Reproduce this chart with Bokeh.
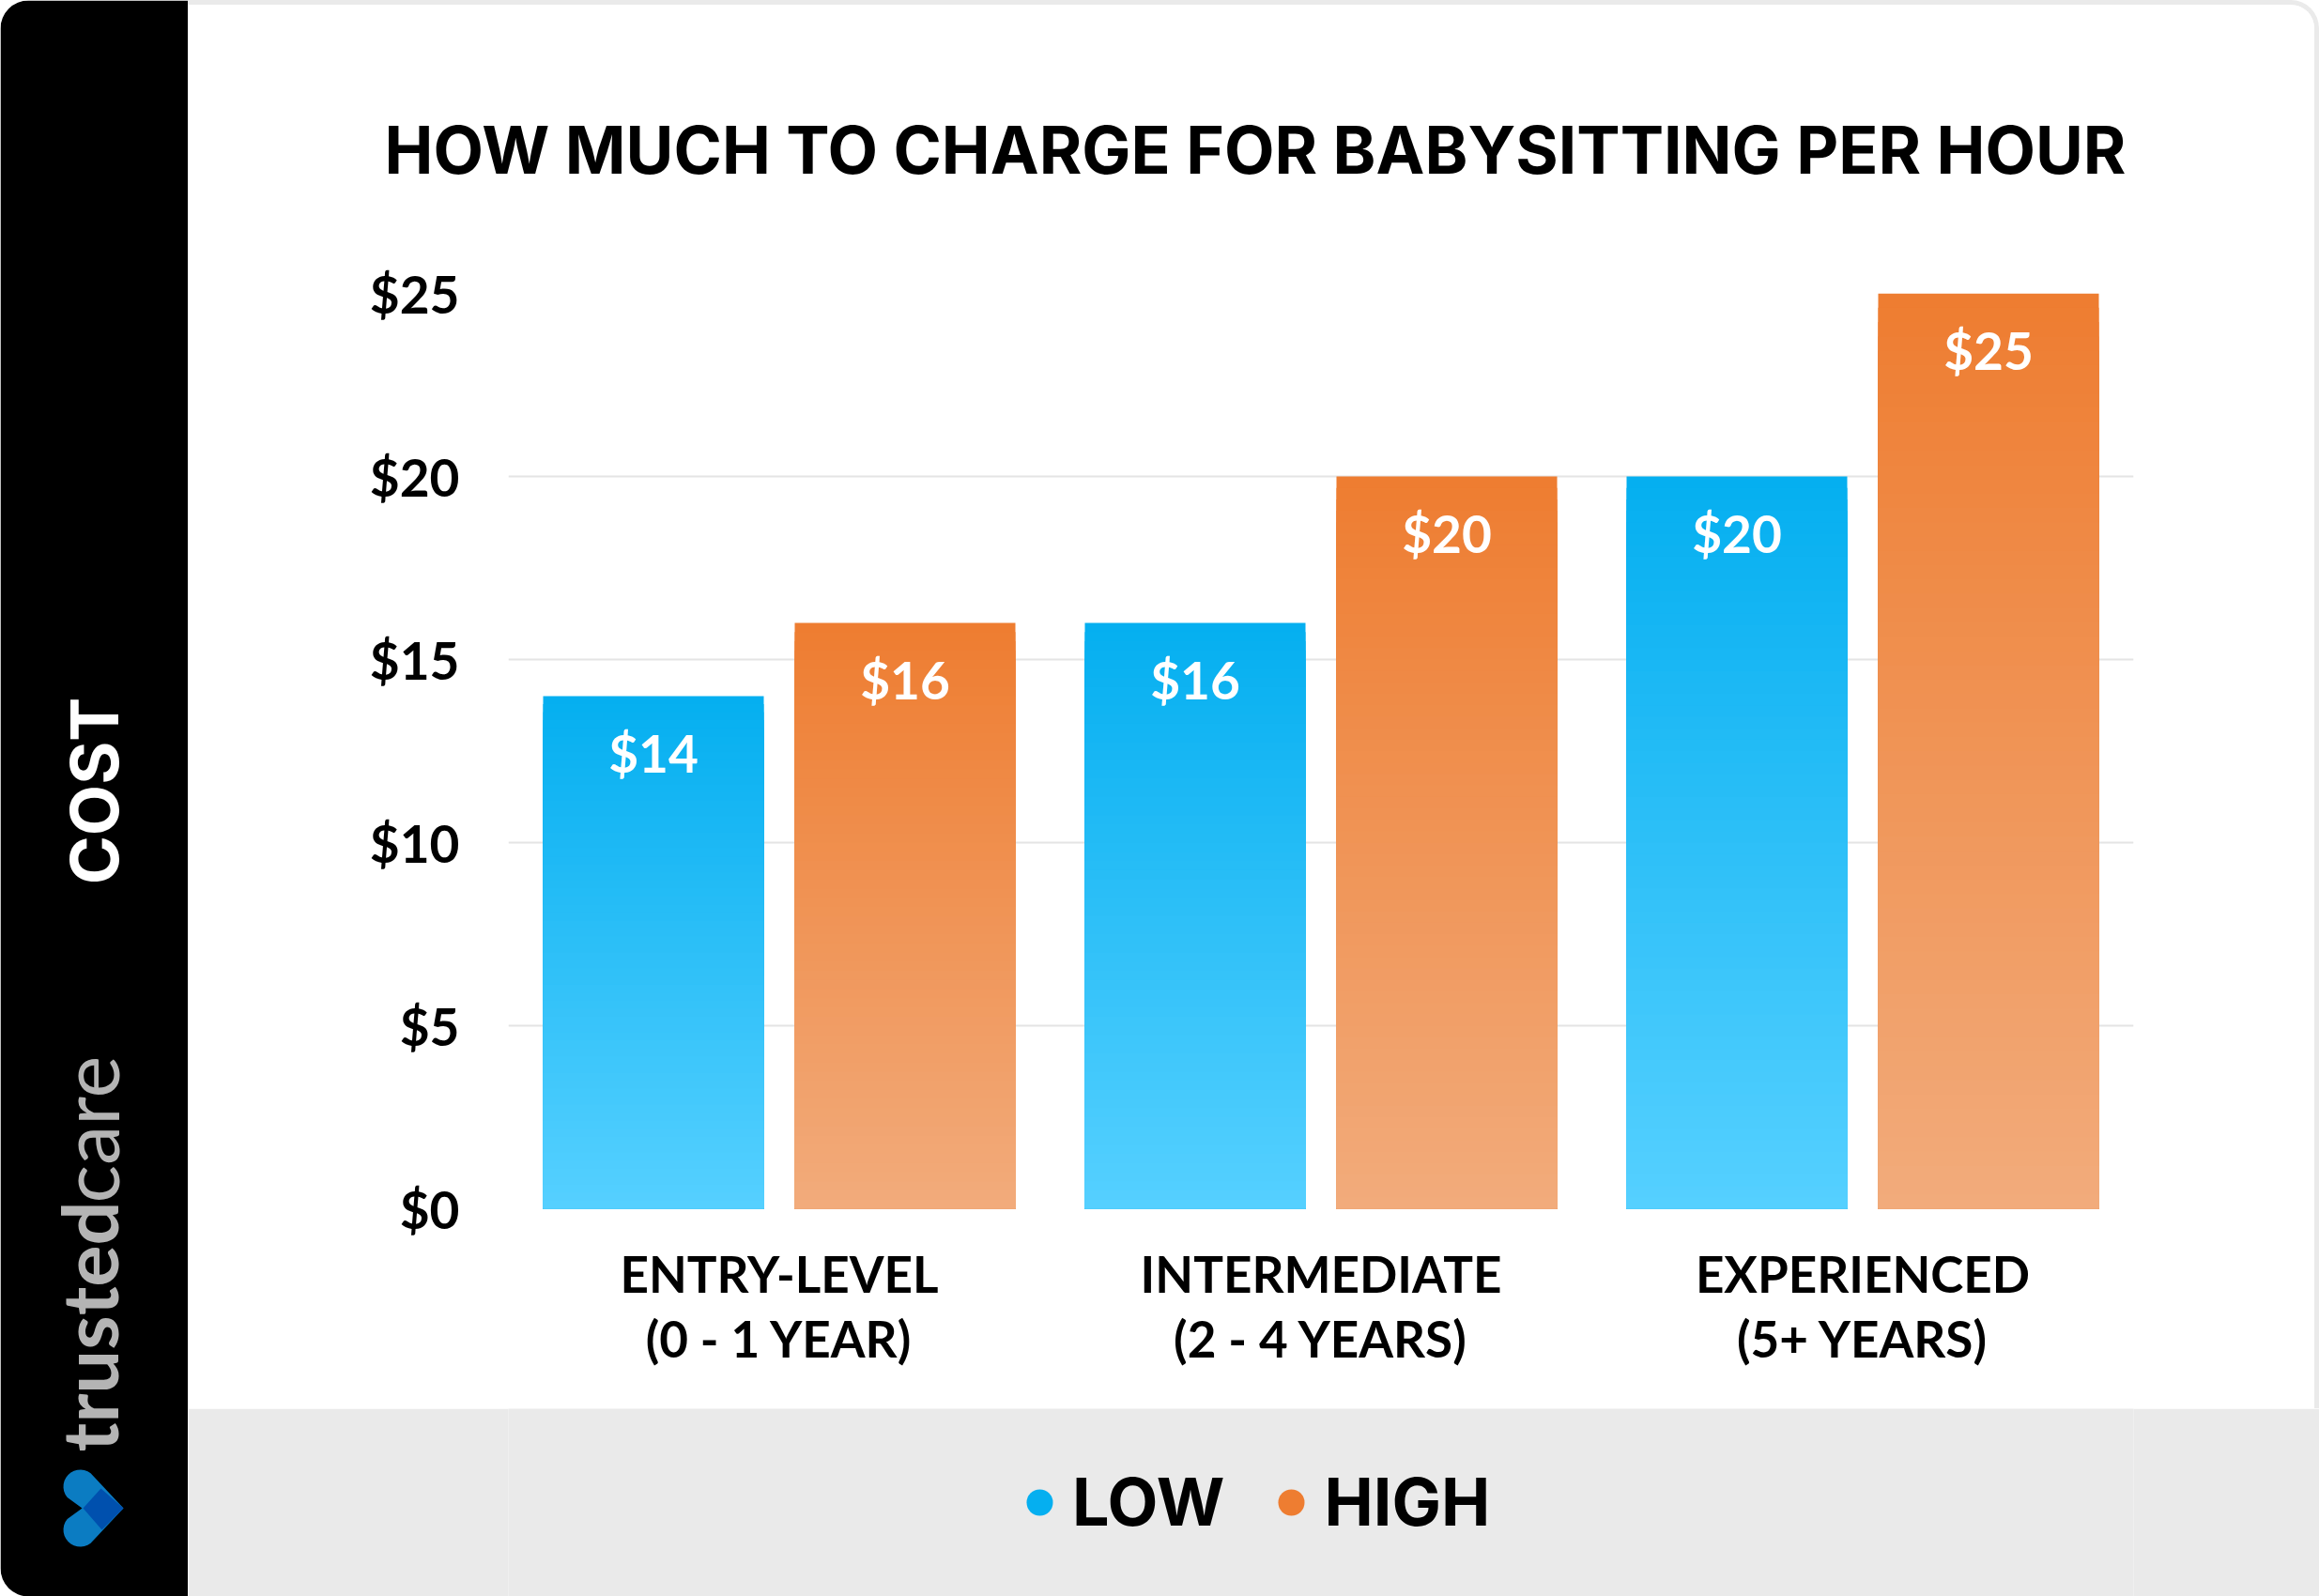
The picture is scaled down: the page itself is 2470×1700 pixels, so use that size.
import math
from bokeh.core.properties import value
from bokeh.embed import file_html
from bokeh.layouts import column, row
from bokeh.resources import INLINE
from bokeh.models import (BoxAnnotation, ColumnDataSource, FactorRange, FixedTicker, Label, Legend,
                          LegendItem, PolyAnnotation, Range1d, Title)
from bokeh.plotting import figure
from bokeh.transform import dodge

CATEGORIES = ["ENTRY-LEVEL\n(0 - 1 YEAR)", "INTERMEDIATE\n(2 - 4 YEARS)", "EXPERIENCED\n(5+ YEARS)"]
LOW = [14, 16, 20]
HIGH = [16, 20, 25]
Y_TICKS = [0, 5, 10, 15, 20, 25]
Y_TICK_LABELS = ["$0", "$5", "$10", "$15", "$20", "$25"]
TITLE = "HOW MUCH TO CHARGE FOR BABYSITTING PER HOUR"
W, H = 2470, 1700
SIDE_W, FOOT_H, EDGE = 200, 200, 5
TITLE_FONT = "Inter"
TICK_FONT = "Lato"
LOW_TOP, LOW_BOTTOM = (5, 175, 240), (85, 208, 255)
HIGH_TOP, HIGH_BOTTOM = (238, 125, 49), (242, 171, 123)


def lerp(a, b, t):
    return "#%02x%02x%02x" % tuple(round(a[i] + (b[i] - a[i]) * t) for i in range(3))


# ---------- chart ----------
p = figure(width=W - SIDE_W, height=H - FOOT_H, output_backend="svg", toolbar_location=None,
           x_range=FactorRange(factors=CATEGORIES, range_padding=0, factor_padding=0),
           y_range=Range1d(0, 25),
           min_border_left=341, min_border_right=198, min_border_top=307, min_border_bottom=218,
           outline_line_color=None, background_fill_color="white", border_fill_color="white",
           styles={"border-top": f"{EDGE}px solid #eaeaea", "border-right": f"{EDGE}px solid #eaeaea",
                   "border-top-right-radius": "30px", "overflow": "hidden"})

p.xaxis.axis_line_color = None
p.xaxis.major_tick_line_color = None
p.xaxis.minor_tick_line_color = None
p.xaxis.major_label_text_font = TICK_FONT
p.xaxis.major_label_text_font_style = "bold"
p.xaxis.major_label_text_font_size = "53px"
p.xaxis.major_label_text_color = "black"
p.xaxis.major_label_text_line_height = 1.11
p.xaxis.major_label_standoff = 31
p.xaxis.major_label_orientation = "horizontal"
p.yaxis.axis_line_color = None
p.yaxis.major_tick_line_color = None
p.yaxis.minor_tick_line_color = None
p.yaxis.ticker = FixedTicker(ticks=Y_TICKS)
p.yaxis.major_label_overrides = dict(zip(Y_TICKS, Y_TICK_LABELS))
p.yaxis.major_label_text_font = TICK_FONT
p.yaxis.major_label_text_font_style = "bold"
p.yaxis.major_label_text_font_size = "55px"
p.yaxis.major_label_text_color = "black"
p.yaxis.major_label_standoff = 46
p.xgrid.visible = False
p.ygrid.ticker = FixedTicker(ticks=Y_TICKS)
p.ygrid.grid_line_color = "#e4e4e4"
p.ygrid.grid_line_width = 2

WIDTH = 235 / 577
OFFSET = 134 / 577
LAYERS = 64
series = [
    (LOW, -OFFSET, LOW_TOP, LOW_BOTTOM),
    (HIGH, OFFSET, HIGH_TOP, HIGH_BOTTOM),
]
for values, off, top_rgb, bottom_rgb in series:
    x = dodge("cat", off, range=p.x_range)
    for i in range(LAYERS):
        frac = 1 - i / LAYERS
        src = ColumnDataSource(dict(cat=CATEGORIES, v=[v * frac for v in values]))
        p.vbar(x=x, top="v", bottom=0, width=WIDTH, source=src,
               fill_color=lerp(top_rgb, bottom_rgb, i / (LAYERS - 1)), line_color=None)
    lab = ColumnDataSource(dict(cat=CATEGORIES, v=values, t=["$%d" % v for v in values]))
    p.text(x=x, y="v", text="t", source=lab, y_offset=60, text_align="center", text_baseline="middle",
           text_color="white", text_font=value(TICK_FONT), text_font_style="bold", text_font_size="55px")

p.title = Title(text=TITLE, align="left", offset=-132, standoff=221, text_font=TITLE_FONT,
                text_font_style="bold", text_font_size="69.5px", text_color="black")

# ---------- footer with the legend ----------
foot = figure(width=W - SIDE_W, height=FOOT_H, output_backend="svg", toolbar_location=None,
              x_range=Range1d(0, 1), y_range=Range1d(0, 1), min_border=0, outline_line_color=None,
              background_fill_color="#eaeaea", border_fill_color="#eaeaea")
foot.axis.visible = False
foot.grid.visible = False
low_dot = foot.scatter([-1], [-1], marker="circle", size=28, fill_color=lerp(LOW_TOP, LOW_TOP, 0), line_color=None)
high_dot = foot.scatter([-1], [-1], marker="circle", size=28, fill_color=lerp(HIGH_TOP, HIGH_TOP, 0), line_color=None)
foot.add_layout(Legend(items=[LegendItem(label="LOW", renderers=[low_dot]), LegendItem(label="HIGH", renderers=[high_dot])],
                       orientation="horizontal", location=(531, 58),
                       background_fill_alpha=0, border_line_color=None, padding=0, margin=0,
                       glyph_width=70, glyph_height=70, label_standoff=0, spacing=36,
                       label_text_font=TITLE_FONT, label_text_font_style="bold", label_text_font_size="70px",
                       label_text_color="black", label_height=70))

# ---------- sidebar ----------
side = figure(width=SIDE_W, height=H, output_backend="svg", toolbar_location=None,
              x_range=Range1d(0, SIDE_W), y_range=Range1d(H, 0), min_border=0, outline_line_color=None,
              background_fill_color="white", border_fill_color="white")
side.axis.visible = False
side.grid.visible = False
side.add_layout(BoxAnnotation(left=0, right=SIDE_W, top=H, bottom=0, left_units="screen", right_units="screen",
                              top_units="screen", bottom_units="screen", fill_color="black", fill_alpha=1,
                              line_color=None, border_radius=(30, 0, 0, 30)))
side.add_layout(Label(x=100, y=H - 842, x_units="screen", y_units="screen", text="COST", angle=math.pi / 2,
                      text_align="center", text_baseline="alphabetic", text_color="white", text_font=TITLE_FONT,
                      text_font_style="bold", text_font_size="70.5px"))
side.add_layout(Label(x=93, y=H - 1546, x_units="screen", y_units="screen", text="trusted", angle=math.pi / 2,
                      text_align="left", text_baseline="alphabetic", text_color="#b4b4b4", text_font="Lato",
                      text_font_style="bold", text_font_size="83px"))
side.add_layout(Label(x=93, y=H - 1281, x_units="screen", y_units="screen", text="care", angle=math.pi / 2,
                      text_align="left", text_baseline="alphabetic", text_color="#b4b4b4", text_font="Lato",
                      text_font_size="85px"))

cx, cy, r = 85, 1583, 18
upper = [(cx + r * math.cos(math.radians(a)), cy + r * math.sin(math.radians(a))) for a in range(-52, -232, -12)]
MID = 1606
outline = [(131, MID)] + upper + [(87, MID)] + [(x, 2 * MID - y) for x, y in reversed(upper)]
side.add_layout(PolyAnnotation(xs=[q[0] for q in outline], ys=[H - q[1] for q in outline],
                               xs_units="screen", ys_units="screen",
                               fill_color="#0b7cc2", fill_alpha=1, line_color=None))
side.add_layout(PolyAnnotation(xs=[88, 107, 131, 108], ys=[H - v for v in (1606, 1585, 1606, 1629)],
                               xs_units="screen", ys_units="screen",
                               fill_color="#0050ae", fill_alpha=1, line_color=None))

page = row(side, column(p, foot, spacing=0), spacing=0)
open("out.html", "w").write(file_html(page, INLINE))
